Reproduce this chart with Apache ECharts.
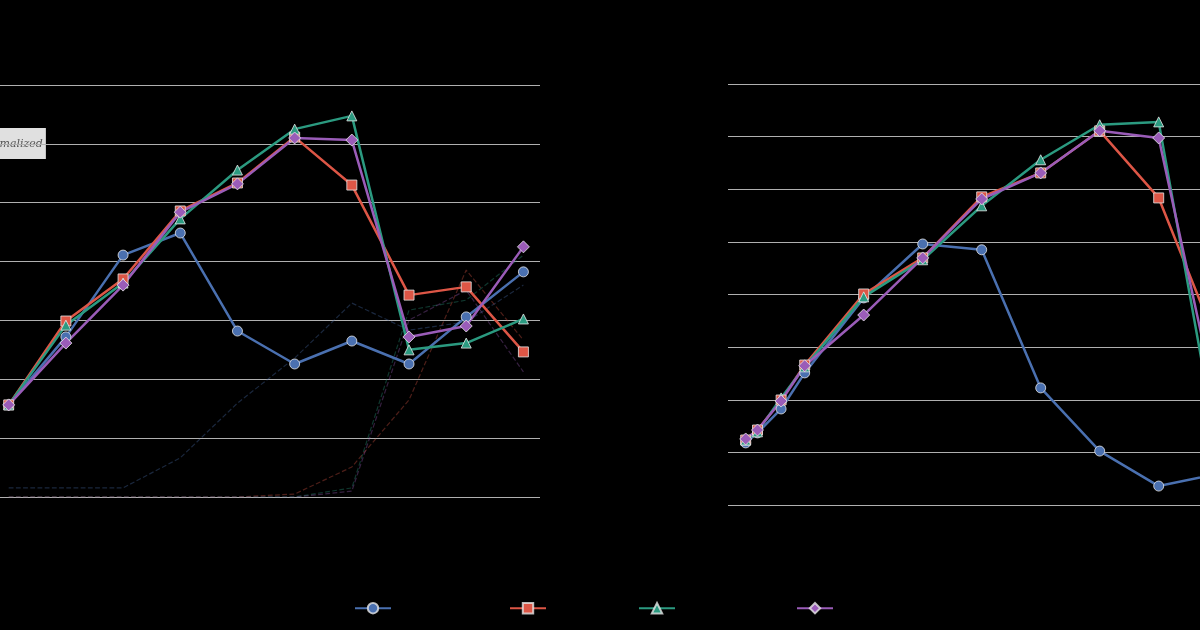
<!DOCTYPE html>
<html>
<head>
<meta charset="utf-8">
<script src="https://cdn.jsdelivr.net/npm/echarts@6/dist/echarts.min.js"></script>
<style>html,body{margin:0;background:#000}#c{width:1200px;height:630px}</style>
</head>
<body>
<div id="c"></div>
<script>
// left panel: step index, right panel: uneven x positions
const leftX = [0, 1, 2, 3, 4, 5, 6, 7, 8, 9];
const rightX = [0, 0.2, 0.6, 1, 2, 3, 4, 5, 6, 7, 8];
const names = ["Series A", "Series B", "Series C", "Series D"];

const leftA = [0.313, 0.544, 0.822, 0.897, 0.564, 0.452, 0.530, 0.452, 0.612, 0.765];
const leftB = [0.313, 0.598, 0.741, 0.972, 1.067, 1.223, 1.060, 0.686, 0.714, 0.493];
const leftC = [0.313, 0.584, 0.727, 0.945, 1.111, 1.250, 1.295, 0.500, 0.523, 0.605];
const leftD = [0.313, 0.523, 0.720, 0.968, 1.064, 1.220, 1.213, 0.544, 0.581, 0.850];

// faint dashed reference curves (left panel)
const refA = [0.031, 0.031, 0.031, 0.133, 0.319, 0.472, 0.659, 0.567, 0.595, 0.720];
const refB = [0, 0, 0, 0, 0, 0.01, 0.102, 0.330, 0.771, 0.533];
const refC = [0, 0, 0, 0, 0, 0, 0.031, 0.635, 0.669, 0.822];
const refD = [0, 0, 0, 0, 0, 0, 0.020, 0.601, 0.703, 0.425];

const rightA = [0.236, 0.274, 0.365, 0.502, 0.787, 0.992, 0.970, 0.445, 0.205, 0.072, 0.118];
const rightB = [0.247, 0.285, 0.399, 0.532, 0.802, 0.939, 1.171, 1.262, 1.422, 1.167, 0.608];
const rightC = [0.247, 0.278, 0.407, 0.525, 0.791, 0.932, 1.137, 1.312, 1.445, 1.456, 0.209];
const rightD = [0.251, 0.285, 0.395, 0.529, 0.722, 0.939, 1.163, 1.262, 1.422, 1.395, 0.361];

const colors = ["#4a70b0", "#dd5646", "#2b9a80", "#9a5cb8"];
const symbols = ["circle", "rect", "triangle", "diamond"];

const chart = echarts.init(document.getElementById("c"));

const pair = (xs, ys) => ys.map((v, i) => [xs[i], v]);

function mainSeries(idx, xs, vals, k) {
    return {
        name: names[k],
        type: "line",
        xAxisIndex: idx, yAxisIndex: idx,
        data: pair(xs, vals),
        symbol: symbols[k],
        symbolSize: k === 3 ? 12 : 10,
        lineStyle: { color: colors[k], width: 2.5 },
        itemStyle: { color: colors[k], borderColor: "rgba(230,230,230,0.8)", borderWidth: 1 },
        z: 3
    };
}
function refSeries(vals, k) {
    return {
        type: "line",
        xAxisIndex: 0, yAxisIndex: 0,
        data: pair(leftX, vals),
        symbol: "none",
        lineStyle: { color: colors[k], width: 1.2, type: "dashed", opacity: 0.35 },
        silent: true, z: 1
    };
}

const gridLine = { show: true, lineStyle: { color: "#b0b0b0", width: 1 } };
const hidden = { show: false };

chart.setOption({
    backgroundColor: "#000",
    animation: false,
    grid: [
        { left: 0, top: 85, width: 540, height: 412 },
        { left: 728, top: 84, right: 0, height: 421 }
    ],
    xAxis: [
        { type: "value", gridIndex: 0, min: -0.152, max: 9.29, splitLine: hidden, axisLine: hidden, axisTick: hidden, axisLabel: hidden },
        { type: "value", gridIndex: 1, min: -0.3, max: 7.7, splitLine: hidden, axisLine: hidden, axisTick: hidden, axisLabel: hidden }
    ],
    yAxis: [
        { type: "value", gridIndex: 0, min: 0, max: 1.4, interval: 0.2, splitLine: gridLine, axisLine: hidden, axisTick: hidden, axisLabel: hidden },
        { type: "value", gridIndex: 1, min: 0, max: 1.6, interval: 0.2, splitLine: gridLine, axisLine: hidden, axisTick: hidden, axisLabel: hidden }
    ],
    legend: [0, 1, 2, 3].map((k) => ({
        data: [names[k]],
        left: [349, 504, 633, 791][k],
        top: 597,
        itemWidth: 36, itemHeight: 13,
        textStyle: { color: "#000" }
    })),
    graphic: [{
        type: "text",
        left: -26, top: 128,
        style: {
            text: "Normalized",
            fill: "#555",
            font: "italic 11px 'DejaVu Serif', serif",
            backgroundColor: "#e0e0e0",
            padding: [11, 3, 9, 4]
        }
    }],
    series: [
        refSeries(refA, 0), refSeries(refB, 1), refSeries(refC, 2), refSeries(refD, 3),
        mainSeries(0, leftX, leftA, 0), mainSeries(0, leftX, leftB, 1),
        mainSeries(0, leftX, leftC, 2), mainSeries(0, leftX, leftD, 3),
        mainSeries(1, rightX, rightA, 0), mainSeries(1, rightX, rightB, 1),
        mainSeries(1, rightX, rightC, 2), mainSeries(1, rightX, rightD, 3)
    ]
});
</script>
</body>
</html>
